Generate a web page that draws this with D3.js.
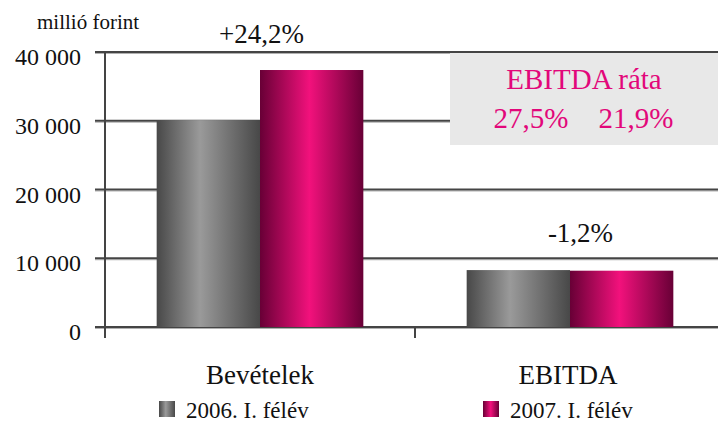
<!DOCTYPE html>
<html>
<head>
<meta charset="utf-8">
<script src="https://cdn.jsdelivr.net/npm/d3@7"></script>
<style>
  body { margin: 0; background: #fff; }
  text { font-family: "Liberation Serif", "Times New Roman", serif; fill: #111; }
</style>
</head>
<body>
<div id="chart"></div>
<script>
"use strict"

// values (millió forint)
let categories = ["Bevételek", "EBITDA"];
let seriesNames = ["2006. I. félév", "2007. I. félév"];
let values2006 = [30100, 8280];
let values2007 = [37380, 8190];
let changeLabels = ["+24,2%", "-1,2%"];
let yTicks = [0, 10000, 20000, 30000, 40000];
let rateLabels = ["27,5%", "21,9%"];

let width = 718, height = 423;
let svg = d3.select("#chart").append("svg")
    .attr("width", width)
    .attr("height", height);

let x = d3.scaleBand().domain(categories).range([105, 725]);
let inner = d3.scaleBand().domain(seriesNames).range([0, x.bandwidth()]).paddingOuter(0.5);
let y = d3.scaleLinear().domain([0, 40000]).range([327, 52]);

// gradients for the cylinder-like bars
let defs = svg.append("defs");
function grad(id, edge, mid, midPos) {
    let g = defs.append("linearGradient").attr("id", id)
        .attr("x1", "0%").attr("x2", "100%").attr("y1", "0%").attr("y2", "0%");
    g.append("stop").attr("offset", "0%").attr("stop-color", edge);
    g.append("stop").attr("offset", midPos).attr("stop-color", mid);
    g.append("stop").attr("offset", "100%").attr("stop-color", edge);
}
grad("gGray", "#484848", "#9a9a9a", "42%");
grad("gPink", "#680036", "#f2117c", "48%");
let fills = ["url(#gGray)", "url(#gPink)"];

// gridlines (dark line with a light edge under it)
let grid = svg.append("g");
grid.selectAll("line.shade").data(yTicks).join("line").attr("class", "shade")
    .attr("x1", 95).attr("x2", width)
    .attr("y1", d => y(d) + 1.5).attr("y2", d => y(d) + 1.5)
    .attr("stroke", "#b0b0b0").attr("stroke-width", 1);
grid.selectAll("line.main").data(yTicks).join("line").attr("class", "main")
    .attr("x1", 95).attr("x2", width)
    .attr("y1", d => y(d)).attr("y2", d => y(d))
    .attr("stroke", "#444").attr("stroke-width", 2);

// y axis line and category tick
svg.append("line").attr("x1", 105).attr("x2", 105).attr("y1", y(40000)).attr("y2", 338)
    .attr("stroke", "#444").attr("stroke-width", 2);
svg.append("line").attr("x1", x("EBITDA")).attr("x2", x("EBITDA")).attr("y1", y(0)).attr("y2", 338)
    .attr("stroke", "#444").attr("stroke-width", 2);

// EBITDA rate box
let box = svg.append("g");
box.append("rect").attr("x", 450).attr("y", 53).attr("width", width - 450).attr("height", 92)
    .attr("fill", "#e8e8e8");
box.append("text").attr("x", 584).attr("y", 89).attr("text-anchor", "middle")
    .style("fill", "#e2077a").style("font-size", "29px").text("EBITDA ráta");
box.selectAll("text.rate").data(rateLabels).join("text").attr("class", "rate")
    .attr("x", (d, i) => [531, 636][i]).attr("y", 128).attr("text-anchor", "middle")
    .style("fill", "#e2077a").style("font-size", "29px").text(d => d);

// bars
let series = [values2006, values2007];
series.forEach((vals, s) => {
    svg.append("g").selectAll("rect").data(vals).join("rect")
        .attr("x", (d, i) => x(categories[i]) + inner(seriesNames[s]))
        .attr("width", inner.bandwidth())
        .attr("y", d => y(d))
        .attr("height", d => y(0) - y(d))
        .attr("fill", fills[s]);
});

// y tick labels
svg.append("g").selectAll("text").data(yTicks).join("text")
    .attr("x", 81).attr("y", d => y(d) + 13)
    .attr("text-anchor", "end").style("font-size", "24px")
    .text(d => d === 0 ? "0" : d3.format(",")(d).replace(",", " "));

svg.append("text").attr("x", 37).attr("y", 29).style("font-size", "21px").text("millió forint");

// change labels above groups
svg.append("g").selectAll("text").data(changeLabels).join("text")
    .attr("x", (d, i) => x(categories[i]) + x.bandwidth() / 2 + [1.5, 10.5][i])
    .attr("y", (d, i) => [43, 242][i])
    .attr("text-anchor", "middle").style("font-size", "27px")
    .text(d => d);

// category labels
svg.append("g").selectAll("text").data(categories).join("text")
    .attr("x", (d, i) => x(d) + x.bandwidth() / 2 + [0, -2][i])
    .attr("y", 384).attr("text-anchor", "middle").style("font-size", "27px")
    .text(d => d);

// legend
let legX = [159, 483];
let leg = svg.append("g").selectAll("g").data(seriesNames).join("g")
    .attr("transform", (d, i) => `translate(${legX[i]},401)`);
leg.append("rect").attr("width", 16).attr("height", 16).attr("fill", (d, i) => fills[i]);
leg.append("text").attr("x", 27).attr("y", 17).style("font-size", "23px").text(d => d);
</script>
</body>
</html>
